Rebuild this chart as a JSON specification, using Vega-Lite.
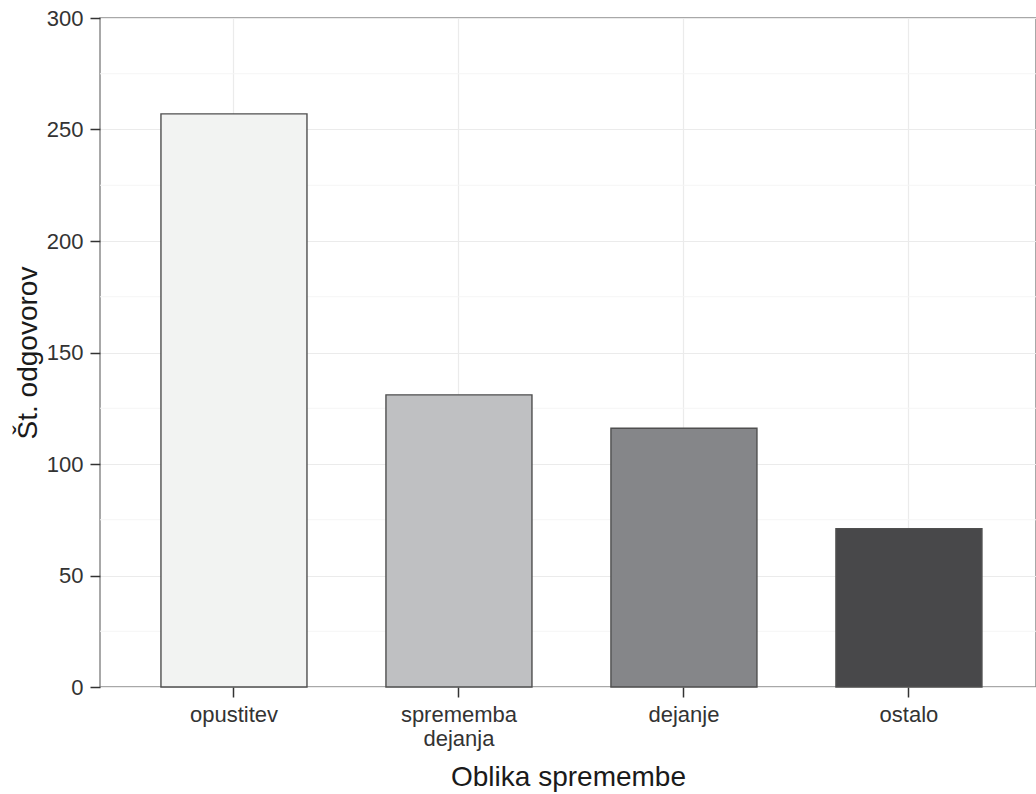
{
  "$schema": "https://vega.github.io/schema/vega-lite/v6.json",
  "width": 936,
  "height": 669,
  "autosize": {"type": "none"},
  "padding": {"left": 100, "top": 18, "right": 0, "bottom": 107},
  "background": "white",
  "config": {
    "font": "Liberation Sans",
    "view": {"stroke": "#8c8c8c", "strokeWidth": 1.5}
  },
  "layer": [
    {
      "data": {"values": [{"v": 25}, {"v": 75}, {"v": 125}, {"v": 175}, {"v": 225}, {"v": 275}]},
      "mark": {"type": "rule", "color": "#f5f5f5", "strokeWidth": 1},
      "encoding": {
        "y": {"field": "v", "type": "quantitative", "scale": {"domain": [0, 300], "nice": false}}
      }
    },
    {
      "data": {
        "values": [
          {"oblika": "opustitev", "n": 257},
          {"oblika": "sprememba dejanja", "n": 131},
          {"oblika": "dejanje", "n": 116},
          {"oblika": "ostalo", "n": 71}
        ]
      },
      "mark": {"type": "bar", "stroke": "#4f4f4f", "strokeWidth": 1.4},
      "encoding": {
        "x": {
          "field": "oblika",
          "type": "nominal",
          "sort": ["opustitev", "sprememba dejanja", "dejanje", "ostalo"],
          "scale": {"paddingInner": 0.351, "paddingOuter": 0.2556, "align": 0.53},
          "axis": {
            "title": "Oblika spremembe",
            "titleFontSize": 28,
            "titleFontWeight": "normal",
            "titleColor": "#1a1a1a",
            "titlePadding": 14,
            "labelAngle": 0,
            "labelFontSize": 22,
            "labelColor": "#333333",
            "labelPadding": 7,
            "labelLineHeight": 24,
            "labelExpr": "split(datum.label, ' ')",
            "domain": false,
            "ticks": true,
            "tickSize": 10,
            "tickWidth": 1.5,
            "tickColor": "#333333",
            "bandPosition": 0.5,
            "grid": true,
            "gridColor": "#ebebeb",
            "gridWidth": 1.2
          }
        },
        "y": {
          "field": "n",
          "type": "quantitative",
          "scale": {"domain": [0, 300], "nice": false},
          "axis": {
            "title": "Št. odgovorov",
            "titleFontSize": 28,
            "titleFontWeight": "normal",
            "titleColor": "#1a1a1a",
            "titlePadding": 4,
            "values": [0, 50, 100, 150, 200, 250, 300],
            "labelFontSize": 22,
            "labelColor": "#333333",
            "labelPadding": 7,
            "domain": false,
            "tickSize": 10,
            "tickWidth": 1.5,
            "tickColor": "#333333",
            "grid": true,
            "gridColor": "#ebebeb",
            "gridWidth": 1.2
          }
        },
        "color": {
          "field": "oblika",
          "type": "nominal",
          "scale": {
            "domain": ["opustitev", "sprememba dejanja", "dejanje", "ostalo"],
            "range": ["#f2f3f2", "#bfc0c2", "#858689", "#48484a"]
          },
          "legend": null
        }
      }
    }
  ]
}
